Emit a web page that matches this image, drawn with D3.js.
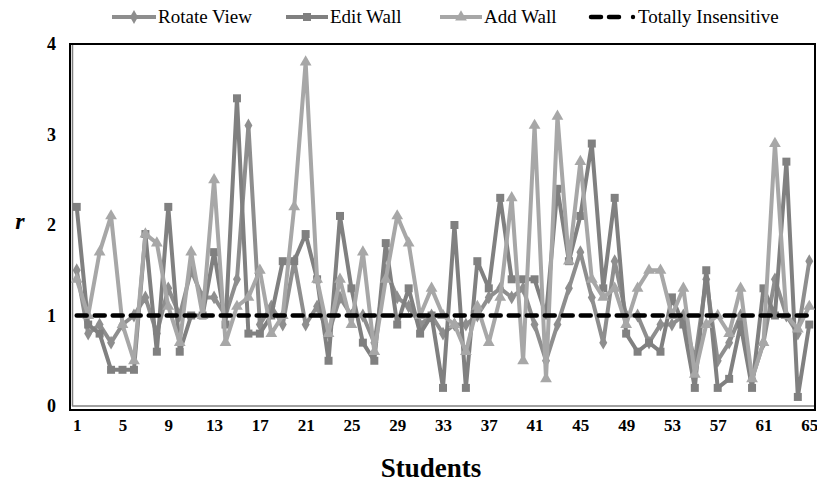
<!DOCTYPE html>
<html>
<head>
<meta charset="utf-8">
<script src="https://cdn.jsdelivr.net/npm/d3@7/dist/d3.min.js"></script>
<style>
  html, body { margin: 0; padding: 0; background: #ffffff; }
  svg { display: block; }
</style>
</head>
<body>
<svg id="chart" width="817" height="483"></svg>
<script>
// Students 1..65
const students = d3.range(1, 66);

// r per student for each interaction
const rotateView = [
  1.5, 0.8, 0.9, 0.7, 0.9, 1.0, 1.2, 0.8, 1.3, 1.0,
  1.5, 1.2, 1.2, 1.0, 1.4, 3.1, 0.9, 1.1, 0.9, 1.6,
  0.9, 1.1, 0.8, 1.2, 1.0, 1.0, 0.7, 1.5, 1.2, 1.1,
  0.9, 1.0, 0.8, 0.9, 0.9, 1.0, 1.2, 1.3, 1.2, 1.3,
  0.9, 0.5, 0.9, 1.3, 1.7, 1.2, 0.7, 1.6, 1.0, 1.0,
  0.7, 0.9, 0.9, 1.0, 0.5, 1.4, 0.5, 0.7, 1.0, 0.3,
  0.7, 1.4, 1.0, 0.8, 1.6
];
const editWall = [
  2.2, 0.9, 0.8, 0.4, 0.4, 0.4, 1.9, 0.6, 2.2, 0.6,
  1.0, 1.0, 1.7, 0.9, 3.4, 0.8, 0.8, 1.0, 1.6, 1.6,
  1.9, 1.4, 0.5, 2.1, 1.3, 0.7, 0.5, 1.8, 0.9, 1.3,
  0.8, 1.0, 0.2, 2.0, 0.2, 1.6, 1.3, 2.3, 1.4, 1.4,
  1.4, 1.0, 2.4, 1.6, 2.1, 2.9, 1.3, 2.3, 0.8, 0.6,
  0.7, 0.6, 1.2, 0.9, 0.2, 1.5, 0.2, 0.3, 0.9, 0.2,
  1.3, 1.0, 2.7, 0.1, 0.9
];
const addWall = [
  1.4, 1.0, 1.7, 2.1, 0.9, 0.5, 1.9, 1.8, 1.1, 0.7,
  1.7, 1.0, 2.5, 0.7, 1.1, 1.2, 1.5, 0.8, 1.0, 2.2,
  3.8, 1.4, 0.8, 1.4, 0.9, 1.7, 0.6, 1.4, 2.1, 1.8,
  1.0, 1.3, 1.0, 0.9, 0.6, 1.1, 0.7, 1.2, 2.3, 0.5,
  3.1, 0.3, 3.2, 1.6, 2.7, 1.4, 1.2, 1.3, 0.9, 1.3,
  1.5, 1.5, 1.0, 1.3, 0.35, 0.9, 1.0, 0.8, 1.3, 0.3,
  0.7, 2.9, 1.0, 0.85, 1.1
];
// reference level: a fully insensitive student has r = 1
const insensitive = students.map(() => 1);

const yTicks = [0, 1, 2, 3, 4];
const xTickLabels = d3.range(1, 66, 4);

const seriesNames = ["Rotate View", "Edit Wall", "Add Wall", "Totally Insensitive"];

const series = [
  { name: seriesNames[0], values: rotateView, color: "#8e8e8e", symbol: d3.symbolDiamond, size: 55 },
  { name: seriesNames[1], values: editWall,   color: "#808080", symbol: d3.symbolSquare,  size: 64 },
  { name: seriesNames[2], values: addWall,    color: "#a7a7a7", symbol: d3.symbolTriangle, size: 60 }
];

const svg = d3.select("#chart");
const serif = "'Liberation Serif', 'Times New Roman', serif";

const plot = { left: 70, right: 815, top: 44, bottom: 410 };

const x = d3.scalePoint()
  .domain(students)
  .range([plot.left + 1, plot.right])
  .padding(0.5);

const y = d3.scaleLinear()
  .domain([0, 4])
  .range([406, 44]);

// plot frame
svg.append("rect")
  .attr("x", plot.left).attr("y", plot.top)
  .attr("width", plot.right - plot.left)
  .attr("height", plot.bottom - plot.top)
  .attr("fill", "#ffffff")
  .attr("stroke", "#000000")
  .attr("stroke-width", 2);

// axis lines inside the frame
svg.append("line")
  .attr("x1", plot.left + 2.5).attr("x2", plot.left + 2.5)
  .attr("y1", plot.top + 1).attr("y2", y(0))
  .attr("stroke", "#808080").attr("stroke-width", 1.5);
svg.append("line")
  .attr("x1", plot.left + 2).attr("x2", plot.right - 1)
  .attr("y1", y(0)).attr("y2", y(0))
  .attr("stroke", "#808080").attr("stroke-width", 1.5);

// y axis labels
const yAxis = d3.axisLeft(y).tickValues(yTicks).tickSize(0).tickPadding(14).tickFormat(d3.format("d"));
const gy = svg.append("g").attr("transform", `translate(${plot.left},0)`).call(yAxis);
gy.select(".domain").remove();
gy.selectAll("text")
  .attr("font-family", serif).attr("font-size", 18).attr("font-weight", "bold").attr("fill", "#000");

// x axis labels
const xAxis = d3.axisBottom(x).tickValues(xTickLabels).tickSize(0).tickPadding(9);
const gx = svg.append("g").attr("transform", `translate(0,${plot.bottom})`).call(xAxis);
gx.select(".domain").remove();
gx.selectAll("text")
  .attr("font-family", serif).attr("font-size", 17).attr("font-weight", "bold").attr("fill", "#000");

// axis titles
svg.append("text")
  .attr("x", 431).attr("y", 477)
  .attr("text-anchor", "middle")
  .attr("font-family", serif).attr("font-size", 27).attr("font-weight", "bold")
  .text("Students");
svg.append("text")
  .attr("x", 20).attr("y", 229)
  .attr("text-anchor", "middle")
  .attr("font-family", serif).attr("font-size", 24).attr("font-weight", "bold").attr("font-style", "italic")
  .text("r");

// series lines and markers
const line = d3.line()
  .x((d, i) => x(students[i]))
  .y(d => y(d));

series.forEach(s => {
  const g = svg.append("g");
  g.append("path")
    .datum(s.values)
    .attr("d", line)
    .attr("fill", "none")
    .attr("stroke", s.color)
    .attr("stroke-width", 4)
    .attr("stroke-linejoin", "round");
  g.selectAll("path.marker")
    .data(s.values)
    .join("path")
    .attr("class", "marker")
    .attr("d", d3.symbol().type(s.symbol).size(s.size))
    .attr("transform", (d, i) => `translate(${x(students[i])},${y(d)})`)
    .attr("fill", s.color);
});

// insensitive reference line
svg.append("path")
  .datum(insensitive)
  .attr("d", line)
  .attr("fill", "none")
  .attr("stroke", "#000")
  .attr("stroke-width", 4.5)
  .attr("stroke-dasharray", "10,8")
  .attr("stroke-linecap", "round");

// legend
const legend = svg.append("g");
const legendItems = [
  { x: 112, textX: 158, s: series[0] },
  { x: 286, textX: 330, s: series[1] },
  { x: 440, textX: 484, s: series[2] }
];
const ly = 17;
legendItems.forEach(it => {
  legend.append("line")
    .attr("x1", it.x).attr("x2", it.textX - 2)
    .attr("y1", ly).attr("y2", ly)
    .attr("stroke", it.s.color).attr("stroke-width", 4);
  legend.append("path")
    .attr("d", d3.symbol().type(it.s.symbol).size(it.s.size)())
    .attr("transform", `translate(${(it.x + it.textX - 2) / 2},${ly})`)
    .attr("fill", it.s.color);
  legend.append("text")
    .attr("x", it.textX).attr("y", ly + 6)
    .attr("font-family", serif).attr("font-size", 19)
    .text(it.s.name);
});
legend.append("line")
  .attr("x1", 591).attr("x2", 622)
  .attr("y1", ly).attr("y2", ly)
  .attr("stroke", "#000").attr("stroke-width", 4.5)
  .attr("stroke-dasharray", "10,8").attr("stroke-linecap", "round");
legend.append("circle")
  .attr("cx", 633).attr("cy", ly).attr("r", 2.2).attr("fill", "#000");
legend.append("text")
  .attr("x", 638).attr("y", ly + 6)
  .attr("font-family", serif).attr("font-size", 19)
  .text(seriesNames[3]);
</script>
</body>
</html>
